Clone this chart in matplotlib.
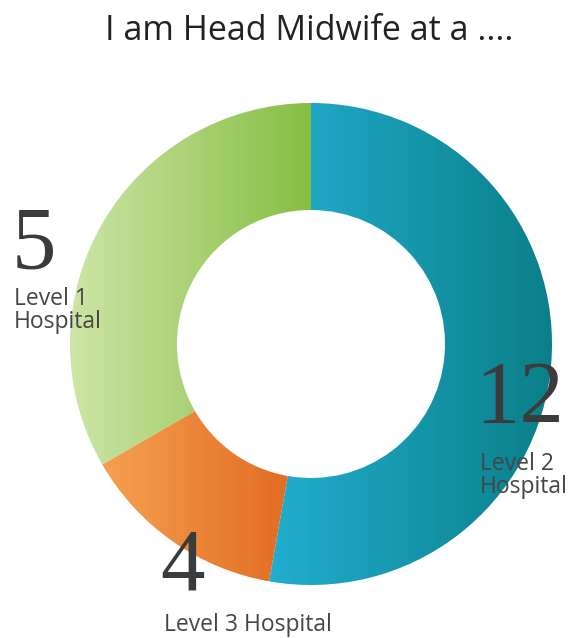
import numpy as np
import matplotlib
matplotlib.use("Agg")
import matplotlib.pyplot as plt
from matplotlib.colors import LinearSegmentedColormap

# data, clockwise from the top
labels = ["Level 2\nHospital", "Level 3 Hospital", "Level 1\nHospital"]
values = [12, 4, 5]
# slice sizes as drawn in the picture (degrees), they don't follow the values
slice_deg = [190, 50, 120]
grad_left = ["#22aed0", "#f5a04f", "#cde5a6"]
grad_right = ["#0a7f88", "#e0661e", "#86be43"]

W, H = 574, 638
fig = plt.figure(figsize=(W / 100, H / 100), dpi=100)
ax = fig.add_axes([0, 0, 1, 1])

cx, cy, r_out, r_in = 311, H - 344, 241, 134
wedges, _ = ax.pie(slice_deg, radius=r_out, center=(cx, cy), startangle=90,
                   counterclock=False,
                   wedgeprops=dict(width=r_out - r_in, linewidth=0))

grad = np.linspace(0, 1, 256).reshape(1, -1)
for w, c0, c1 in zip(wedges, grad_left, grad_right):
    verts = w.get_path().vertices
    x0, x1 = verts[:, 0].min(), verts[:, 0].max()
    y0, y1 = verts[:, 1].min(), verts[:, 1].max()
    cmap = LinearSegmentedColormap.from_list("g", [c0, c1])
    im = ax.imshow(grad, cmap=cmap, extent=[x0, x1, y0, y1],
                   aspect="auto", interpolation="bilinear", zorder=1)
    im.set_clip_path(w)
    w.set_facecolor("none")

ax.set_xlim(0, W)
ax.set_ylim(0, H)
ax.set_aspect("equal")
ax.axis("off")

num_font = dict(family="Liberation Serif", color="#3b3b3b", size=64)
lab_font = dict(family="Open Sans", color="#454545", size=16.5,
                linespacing=0.92)

ax.text(309, H - 40, "I am Head Midwife at a ....", ha="center",
        va="baseline", family="Open Sans", size=24.5, color="#222222")

# value numbers and labels
ax.text(12, H - 268, str(values[2]), ha="left", va="baseline", **num_font)
ax.text(14, H - 328, labels[2], ha="left", va="baseline", **lab_font)

ax.text(475, H - 422, str(values[0]), ha="left", va="baseline", **num_font)
ax.text(480, H - 493, labels[0], ha="left", va="baseline", **lab_font)

ax.text(160, H - 590, str(values[1]), ha="left", va="baseline", **num_font)
ax.text(164, H - 631, labels[1], ha="left", va="baseline", **lab_font)

fig.savefig("out.png", dpi=100, facecolor="white")
